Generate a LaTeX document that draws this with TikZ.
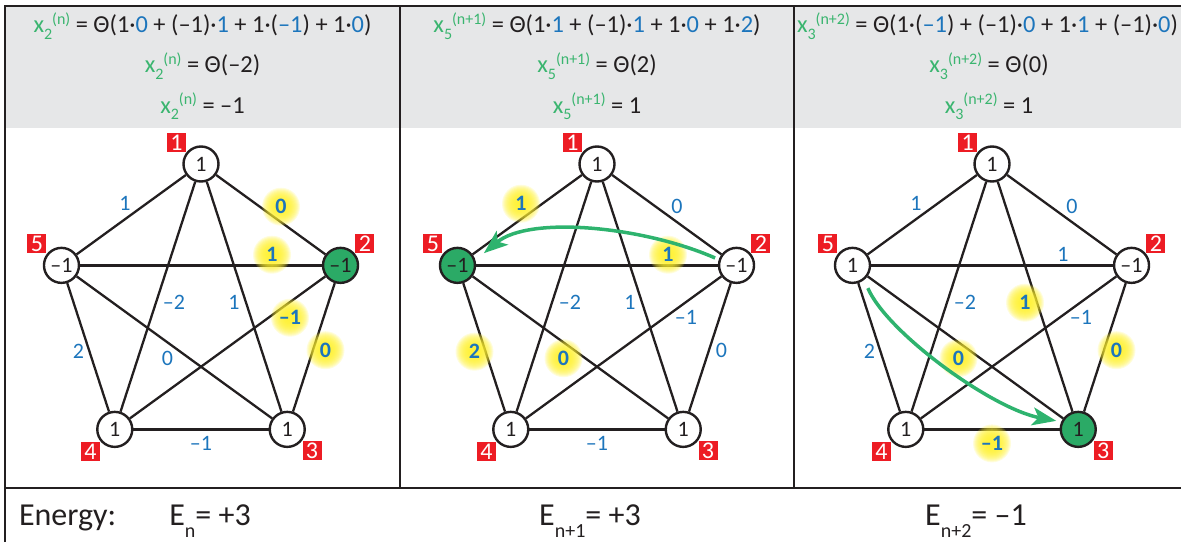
\documentclass[tikz,border=0pt]{standalone}
\usepackage{fontspec}
\setmainfont{Carlito}
\usepackage{xcolor}
\usepackage{tikz}
\usetikzlibrary{positioning,arrows.meta}
\definecolor{ink}{HTML}{231F20}
\definecolor{xgreen}{HTML}{3AB56F}
\definecolor{hotgreen}{HTML}{2BAA66}
\definecolor{movegreen}{HTML}{2EB36E}
\definecolor{wblue}{HTML}{1C75BC}
\definecolor{numred}{HTML}{ED1C24}
\definecolor{headgray}{HTML}{E6E7E8}
\definecolor{glowyellow}{HTML}{FFF12E}

\newcommand{\xvar}[2]{\textcolor{xgreen}{x\raisebox{-3.5pt}{\fontsize{8}{8}\selectfont#1}\raisebox{4.2pt}{\fontsize{8}{8}\selectfont(#2)}}}
\newcommand{\wv}[1]{\textcolor{wblue}{#1}}
\newcommand{\esub}[1]{\raisebox{-6pt}{\fontsize{10}{10}\selectfont#1}}

\begin{document}
\begin{tikzpicture}[x=0.5pt, y=0.5pt,
  vtx/.style={circle, draw=ink, line width=1.2pt, fill=white, minimum size=17.5pt,
              inner sep=0pt, font=\fontsize{11}{11}\selectfont, text=ink, label distance=2.2pt},
  cold/.style={},
  hot/.style={fill=hotgreen},
  num/.style={fill=numred, text=white, minimum size=9.5pt, inner sep=0pt,
              font=\fontsize{12}{12}\selectfont},
  edge/.style={line width=1.15pt, draw=ink},
  wt/.style={text=wblue, font=\fontsize{11}{11}\selectfont},
  wthl/.style={wt, font=\fontsize{11}{11}\selectfont\bfseries},
  glow/.style={fill=glowyellow, opacity=0.16},
  head/.style={anchor=base, font=\fontsize{12.2}{13}\selectfont, text=ink},
  energy/.style={anchor=base, font=\fontsize{16}{16}\selectfont, text=ink},
  frame/.style={line width=1.3pt, draw=ink},
  move/.style={-{Stealth[length=12pt, width=9pt, inset=3pt]}, line width=1.75pt, draw=movegreen}
]
\useasboundingbox (0,0) rectangle (1181,542);

% frame and header band
\fill[headgray] (5,414) rectangle (1181,536);
\draw[frame] (5,0) -- (5,536) -- (1181,536);
\draw[frame] (5,54) -- (1181,54);
\draw[frame] (400,54) -- (400,536);
\draw[frame] (794,54) -- (794,536);

% update rules
\node[head] (h1a) at (202.5,509) {\xvar{2}{n} = Θ(1·\wv{0} + (–1)·\wv{1} + 1·(\wv{–1}) + 1·\wv{0})};
\node[head] (h1b) at (202.5,469) {\xvar{2}{n} = Θ(–2)};
\node[head] (h1c) at (202.5,429) {\xvar{2}{n} = –1};
\node[head] (h2a) at (597,509) {\xvar{5}{n+1} = Θ(1·\wv{1} + (–1)·\wv{1} + 1·\wv{0} + 1·\wv{2})};
\node[head] (h2b) at (597,469) {\xvar{5}{n+1} = Θ(2)};
\node[head] (h2c) at (597,429) {\xvar{5}{n+1} = 1};
\node[head] (h3a) at (987.5,509) {\xvar{3}{n+2} = Θ(1·(\wv{–1}) + (–1)·\wv{0} + 1·\wv{1} + (–1)·\wv{0})};
\node[head] (h3b) at (989,469) {\xvar{3}{n+2} = Θ(0)};
\node[head] (h3c) at (989,429) {\xvar{3}{n+2} = 1};

% panel 1: step n
\begin{scope}[shift={(201,231.3)}]
  \foreach \i/\a/\la/\v/\s in {1/90/141/1/cold, 2/18/39/–1/hot, 3/-54/-37/1/cold, 4/-126/-140/1/cold, 5/162/142/–1/cold}
    \node[vtx, \s, label={[num]\la:\i}] (a\i) at (\a:146.7) {\v};
  \foreach \u/\v in {1/2, 1/3, 1/4, 1/5, 2/3, 2/4, 2/5, 3/4, 3/5, 4/5}
    \draw[edge] (a\u) -- (a\v);
  \foreach \x/\y in {80/104, 71/56, 89/-7, 124.5/-39.5}
    \foreach \r in {4,...,19}
      \fill[glow] (\x,\y) circle (\r);
  \foreach \x/\y/\w/\s [count=\k] in {-76/107/1/wt, 80/104/0/wthl, 71/56/1/wthl, -27/8/–2/wt, 33/8/1/wt,
      89/-7/–1/wthl, 124.5/-39.5/0/wthl, -122.5/-41/2/wt, -33.5/-47.5/0/wt, 0/-132.7/–1/wt}
    \node[\s] (aw\k) at (\x,\y) {\w};
\end{scope}

% panel 2: step n+1
\begin{scope}[shift={(597,231.3)}]
  \foreach \i/\a/\la/\v/\s in {1/90/141/1/cold, 2/18/39/–1/cold, 3/-54/-37/1/cold, 4/-126/-140/1/cold, 5/162/142/–1/hot}
    \node[vtx, \s, label={[num]\la:\i}] (b\i) at (\a:146.7) {\v};
  \foreach \u/\v in {1/2, 1/3, 1/4, 1/5, 2/3, 2/4, 2/5, 3/4, 3/5, 4/5}
    \draw[edge] (b\u) -- (b\v);
  \foreach \x/\y in {-76/107, 71/56, -122.5/-41, -33.5/-47.5}
    \foreach \r in {4,...,19}
      \fill[glow] (\x,\y) circle (\r);
  \foreach \x/\y/\w/\s [count=\k] in {-76/107/1/wthl, 80/104/0/wt, 71/56/1/wthl, -27/8/–2/wt, 33/8/1/wt,
      89/-7/–1/wt, 124.5/-39.5/0/wt, -122.5/-41/2/wthl, -33.5/-47.5/0/wthl, 0/-132.7/–1/wt}
    \node[\s] (bw\k) at (\x,\y) {\w};
  \draw[move, shorten <=2pt, shorten >=5.5pt] (b2.162) .. controls +(-75,33) and +(54,45) .. (b5.16);
\end{scope}

% panel 3: step n+2
\begin{scope}[shift={(992,231.3)}]
  \foreach \i/\a/\la/\v/\s in {1/90/141/1/cold, 2/18/39/–1/cold, 3/-54/-37/1/hot, 4/-126/-140/1/cold, 5/162/142/1/cold}
    \node[vtx, \s, label={[num]\la:\i}] (c\i) at (\a:146.7) {\v};
  \foreach \u/\v in {1/2, 1/3, 1/4, 1/5, 2/3, 2/4, 2/5, 3/4, 3/5, 4/5}
    \draw[edge] (c\u) -- (c\v);
  \foreach \x/\y in {33/8, 124.5/-39.5, -33.5/-47.5, 0/-132.7}
    \foreach \r in {4,...,19}
      \fill[glow] (\x,\y) circle (\r);
  \foreach \x/\y/\w/\s [count=\k] in {-76/107/1/wt, 80/104/0/wt, 71/56/1/wt, -27/8/–2/wt, 33/8/1/wthl,
      89/-7/–1/wt, 124.5/-39.5/0/wthl, -122.5/-41/2/wt, -33.5/-47.5/0/wthl, 0/-132.7/–1/wthl}
    \node[\s] (cw\k) at (\x,\y) {\w};
  \draw[move, shorten <=4.5pt, shorten >=2.5pt] (c5.-51) .. controls +(23,-53) and +(-69,13) .. (c3.156);
\end{scope}

% energies
\node[energy, anchor=base west] (elabel) at (12,17) {Energy:};
\node[energy] (e1) at (210,17) {E\esub{n}= +3};
\node[energy] (e2) at (590,17) {E\esub{n+1}= +3};
\node[energy] (e3) at (976,17) {E\esub{n+2}= –1};

\end{tikzpicture}
\end{document}
